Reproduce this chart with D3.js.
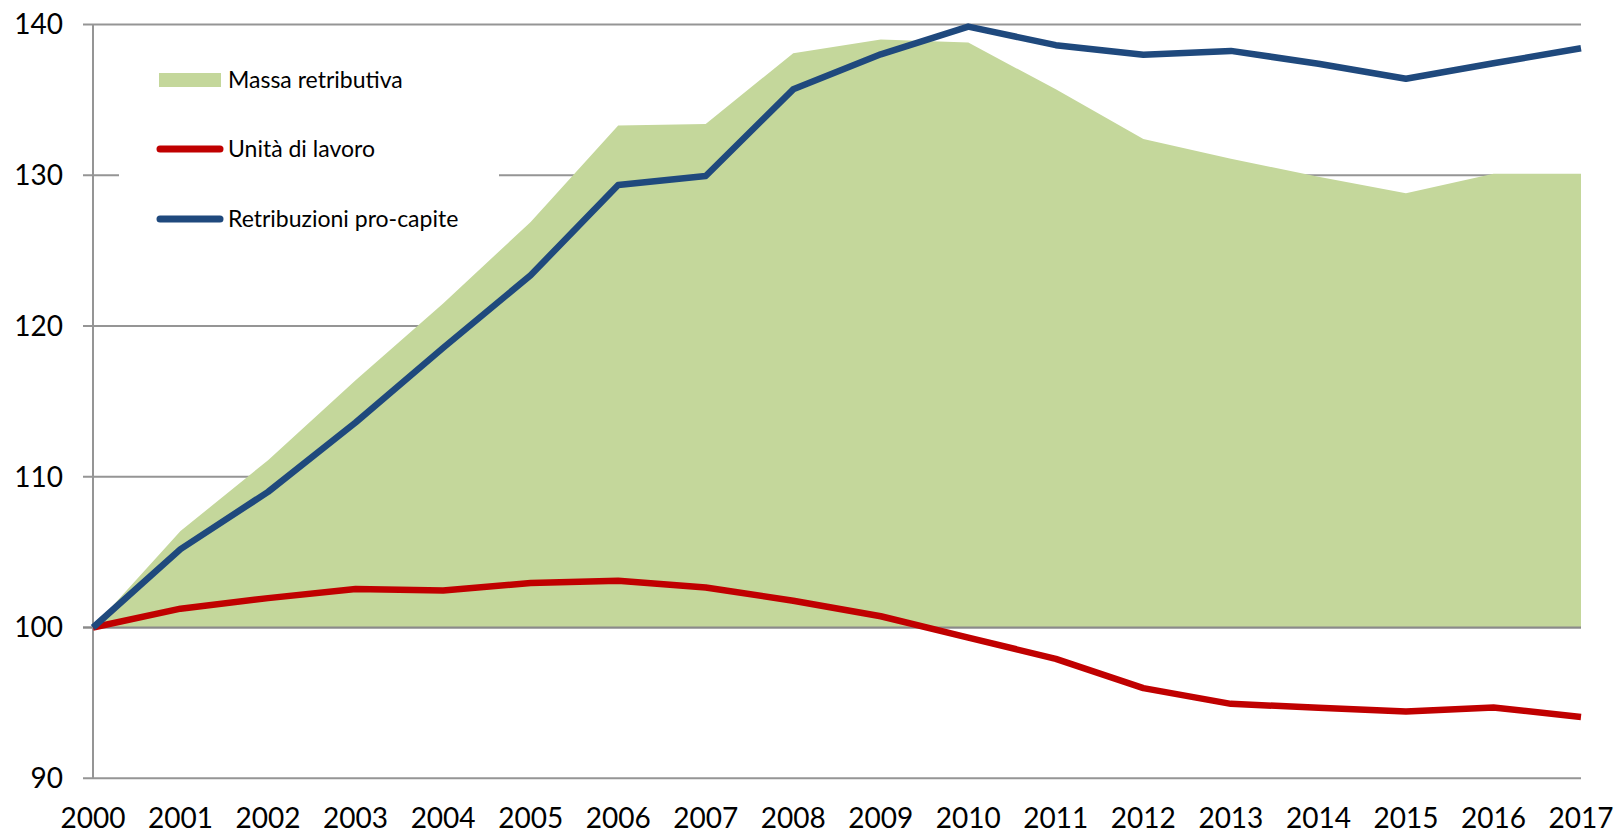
<!DOCTYPE html>
<html>
<head>
<meta charset="utf-8">
<script src="https://cdn.jsdelivr.net/npm/d3@7"></script>
<style>
  body { margin: 0; background: #fff; }
  svg text { font-family: Lato, "Open Sans", sans-serif; fill: #000; }
</style>
</head>
<body>
<div id="chart"></div>
<script>
// Indici 2000 = 100
const years = d3.range(2000, 2018);
const massaRetributiva = [100, 106.4, 111.1, 116.4, 121.5, 126.9, 133.3, 133.4, 138.1, 139.0, 138.8, 135.7, 132.4, 131.1, 129.9, 128.8, 130.1, 130.1];
const unitaLavoro = [100, 101.25, 101.95, 102.55, 102.45, 102.95, 103.1, 102.65, 101.78, 100.75, 99.33, 97.92, 95.98, 94.94, 94.68, 94.43, 94.7, 94.06];
const retribuzioniProCapite = [100, 105.2, 109.0, 113.6, 118.55, 123.37, 129.35, 129.95, 135.7, 138.02, 139.86, 138.63, 138.0, 138.25, 137.4, 136.4, 137.43, 138.42];
const yTicks = [90, 100, 110, 120, 130, 140];
const legendLabels = ["Massa retributiva", "Unità di lavoro", "Retribuzioni pro-capite"];

const W = 1620, H = 835;
const plotLeft = 93, plotRight = 1581, plotTop = 24.5, plotBottom = 778.3;

const svg = d3.select("#chart").append("svg")
    .attr("width", W)
    .attr("height", H);

const x = d3.scaleLinear().domain([2000, 2017]).range([plotLeft, plotRight]);
const y = d3.scaleLinear().domain([90, 140]).range([plotBottom, plotTop]);

const gridColor = "#959595";

// gridlines
svg.append("g")
    .selectAll("line")
    .data(yTicks)
    .join("line")
    .attr("x1", plotLeft - 10)
    .attr("x2", plotRight)
    .attr("y1", d => y(d))
    .attr("y2", d => y(d))
    .attr("stroke", gridColor)
    .attr("stroke-width", 2);

// legend box (white, hides the gridline behind)
svg.append("rect")
    .attr("x", 119)
    .attr("y", 45)
    .attr("width", 380)
    .attr("height", 200)
    .attr("fill", "#fff");

// area
const area = d3.area()
    .x((d, i) => x(years[i]))
    .y0(y(100))
    .y1(d => y(d));

svg.append("path")
    .datum(massaRetributiva)
    .attr("fill", "#c4d79b")
    .attr("d", area);

// baseline at 100 on top of the area
svg.append("line")
    .attr("x1", plotLeft - 10)
    .attr("x2", plotRight)
    .attr("y1", y(100))
    .attr("y2", y(100))
    .attr("stroke", "#8a8a8a")
    .attr("stroke-width", 2);

// vertical axis
svg.append("line")
    .attr("x1", plotLeft)
    .attr("x2", plotLeft)
    .attr("y1", plotTop)
    .attr("y2", plotBottom)
    .attr("stroke", gridColor)
    .attr("stroke-width", 2);

// lines
const line = d3.line()
    .x((d, i) => x(years[i]))
    .y(d => y(d));

svg.append("path")
    .datum(unitaLavoro)
    .attr("fill", "none")
    .attr("stroke", "#c00000")
    .attr("stroke-width", 6.5)
    .attr("stroke-linejoin", "round")
    .attr("d", line);

svg.append("path")
    .datum(retribuzioniProCapite)
    .attr("fill", "none")
    .attr("stroke", "#1f497d")
    .attr("stroke-width", 6.5)
    .attr("stroke-linejoin", "round")
    .attr("d", line);

// y labels
svg.append("g")
    .selectAll("text")
    .data(yTicks)
    .join("text")
    .attr("x", 63)
    .attr("y", d => y(d))
    .attr("dy", "0.35em")
    .attr("text-anchor", "end")
    .attr("font-size", 28)
    .text(d => d);

// x labels
svg.append("g")
    .selectAll("text")
    .data(years)
    .join("text")
    .attr("x", d => x(d))
    .attr("y", 818)
    .attr("dy", "0.35em")
    .attr("text-anchor", "middle")
    .attr("font-size", 28)
    .text(d => d);

// legend
const legY = [80, 149, 219];
svg.append("rect")
    .attr("x", 159)
    .attr("y", legY[0] - 7)
    .attr("width", 62)
    .attr("height", 14)
    .attr("fill", "#c4d79b");

[["#c00000", legY[1]], ["#1f497d", legY[2]]].forEach(([c, ly]) => {
    svg.append("line")
        .attr("x1", 160)
        .attr("x2", 220)
        .attr("y1", ly)
        .attr("y2", ly)
        .attr("stroke", c)
        .attr("stroke-width", 7)
        .attr("stroke-linecap", "round");
});

svg.append("g")
    .selectAll("text")
    .data(legendLabels)
    .join("text")
    .attr("x", 228)
    .attr("y", (d, i) => legY[i])
    .attr("dy", "0.35em")
    .attr("font-size", 23)
    .text(d => d);
</script>
</body>
</html>
